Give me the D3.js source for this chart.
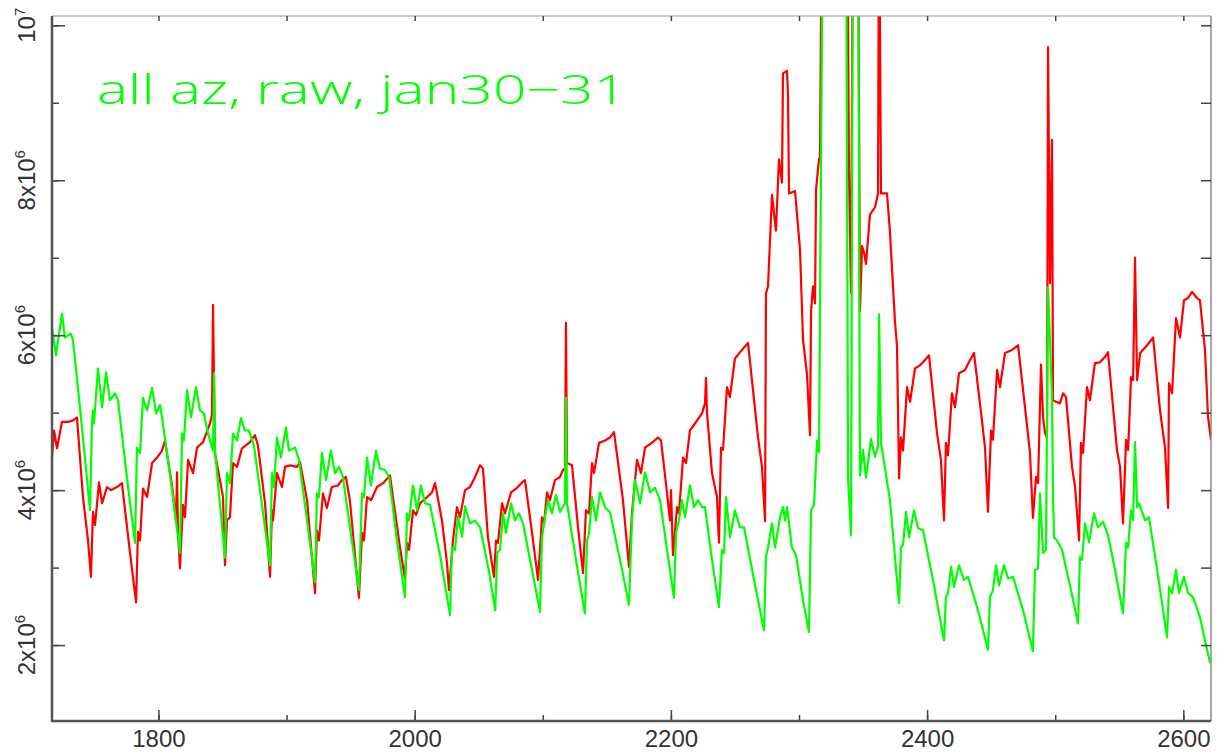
<!DOCTYPE html>
<html>
<head>
<meta charset="utf-8">
<script src="https://cdn.jsdelivr.net/npm/d3@7"></script>
<style>
  html, body { margin: 0; padding: 0; background: #fff; }
  svg { display: block; }
</style>
</head>
<body>
<script>
// values, y in units of 10^6
const red = [
  [1716.9,4.42],[1718.5,4.77],[1720.8,4.54],[1724.7,4.88],[1729.4,4.88],[1733.3,4.90],[1736.4,4.94],[1741.1,3.91],[1745.0,3.35],[1747.3,2.88],
  [1748.9,3.72],[1750.5,3.55],[1753.6,4.10],[1756.0,3.83],[1759.8,4.04],[1763.0,4.00],[1767.6,4.04],[1771.5,4.09],[1777.8,3.19],[1782.5,2.55],
  [1784.0,3.46],[1785.6,3.35],[1787.9,4.02],[1791.1,3.91],[1795.0,4.35],[1798.9,4.42],[1802.8,4.51],[1805.1,4.64],[1810.6,4.06],[1813.7,3.61],[1814.5,4.23],[1815.2,3.48],[1816.8,2.99],
  [1819.1,3.81],[1820.7,3.65],[1823.1,4.39],[1827.0,4.22],[1830.1,4.55],[1834.8,4.62],[1840.2,4.86],[1841.8,4.97],[1842.6,6.39],[1844.1,4.48],[1850.4,3.91],[1851.9,3.03],
  [1853.5,3.61],[1855.8,3.65],[1858.2,4.35],[1861.3,4.30],[1865.2,4.54],[1871.4,4.62],[1875.3,4.71],[1877.6,4.58],[1883.2,3.83],[1887.1,2.88],
  [1888.6,3.74],[1889.4,3.61],[1892.5,4.22],[1896.4,4.04],[1898.8,4.30],[1902.7,4.32],[1908.1,4.30],[1910.5,4.36],[1916.0,3.87],[1922.2,2.67],
  [1923.7,3.48],[1925.3,3.35],[1928.4,3.96],[1931.5,3.77],[1935.3,4.04],[1940.1,4.06],[1943.2,4.13],[1946.3,4.17],[1949.4,3.87],[1956.5,2.61],
  [1958.9,3.45],[1960.4,3.35],[1962.8,3.91],[1965.9,3.87],[1970.6,4.04],[1975.3,4.09],[1980.7,4.19],[1988.5,3.26],[1992.4,2.86],
  [1994.0,3.32],[1995.6,3.23],[1998.7,3.74],[2001.1,3.68],[2004.2,3.83],[2009.6,3.91],[2013.5,3.97],[2015.9,4.09],[2021.3,3.61],[2025.2,3.06],[2026.8,2.71],
  [2029.9,3.35],[2033.0,3.78],[2035.4,3.65],[2039.3,4.00],[2043.2,4.04],[2047.1,4.17],[2051.0,4.32],[2053.3,4.28],[2057.2,3.39],[2061.9,2.88],
  [2063.5,3.35],[2065.0,3.32],[2068.2,3.83],[2070.5,3.70],[2075.2,3.97],[2079.9,4.03],[2083.8,4.10],[2086.1,4.13],[2091.6,3.45],[2096.3,2.84],
  [2099.4,3.65],[2101.0,3.57],[2103.3,3.97],[2105.6,3.87],[2109.5,4.13],[2113.4,4.17],[2115.8,4.26],[2117.3,4.28],[2118.1,6.16],[2118.9,4.35],[2122.8,4.32],[2127.5,3.52],[2131.4,2.93],
  [2133.7,3.74],[2136.1,3.70],[2138.4,4.35],[2140.0,4.22],[2143.9,4.61],[2148.6,4.64],[2152.5,4.68],[2155.6,4.75],[2162.6,3.87],[2167.3,3.01],
  [2169.6,3.70],[2173.5,4.39],[2176.7,4.22],[2179.8,4.55],[2185.2,4.61],[2189.9,4.68],[2192.3,4.64],[2197.0,3.96],[2199.3,3.61],[2200.1,4.00],[2201.6,3.16],
  [2204.8,3.78],[2206.3,3.70],[2209.5,4.42],[2211.8,4.35],[2214.9,4.77],[2218.8,4.86],[2224.3,4.99],[2226.6,5.12],[2227.4,5.45],[2228.2,4.99],[2232.1,4.22],[2236.0,3.91],[2237.5,3.32],
  [2239.1,4.55],[2240.7,4.52],[2243.8,5.33],[2246.1,5.20],[2250.0,5.70],[2255.5,5.81],[2260.2,5.90],[2264.1,5.29],[2268.0,4.68],[2271.1,4.30],[2273.5,3.60],
  [2274.2,6.54],[2275.8,6.63],[2278.9,7.81],[2282.0,7.35],[2284.4,8.27],[2286.7,7.97],[2287.5,9.38],[2290.6,9.41],[2291.4,9.12],[2292.2,7.83],[2296.9,7.86],[2300.8,7.10],[2303.1,5.95],[2306.3,5.48],[2308.6,4.71],
  [2309.4,6.31],[2310.9,6.63],[2312.5,6.41],[2313.3,7.88],[2315.6,8.27],[2316.4,8.30],[2318.0,12],
  [2337.5,12],[2339.0,8.12],[2340.6,6.54],[2342.2,12],[2346.0,12],[2347.6,6.31],[2349.2,7.15],[2350.7,7.07],[2352.3,6.92],[2355.4,7.56],[2359.3,7.65],[2361.7,7.83],[2362.5,12],[2364.0,7.83],[2368.7,7.83],[2371.0,7.33],[2374.9,6.18],[2376.5,5.86],[2378.1,4.15],
  [2379.6,4.68],[2381.2,4.51],[2384.3,5.33],[2386.7,5.14],[2390.5,5.57],[2394.4,5.61],[2398.4,5.68],[2401.5,5.74],[2407.7,4.74],[2410.8,4.39],[2413.2,3.61],
  [2414.7,4.61],[2416.3,4.45],[2419.4,5.25],[2421.8,5.07],[2424.9,5.51],[2429.6,5.55],[2433.5,5.68],[2436.6,5.77],[2442.8,4.90],[2445.2,4.55],[2447.5,3.72],
  [2449.9,4.77],[2451.4,4.65],[2454.6,5.55],[2456.9,5.33],[2460.8,5.77],[2466.3,5.81],[2471.0,5.87],[2476.4,5.07],[2480.3,4.48],[2482.6,3.64],
  [2485.0,4.17],[2486.6,4.09],[2488.9,5.62],[2490.5,4.94],[2492.0,4.74],[2493.6,4.68],[2494.4,9.72],[2495.9,6.67],[2497.5,8.52],[2498.3,5.16],[2500.6,5.14],[2503.7,5.12],[2506.1,5.25],[2508.4,5.20],[2513.1,4.30],[2515.5,4.04],[2518.6,3.35],
  [2520.1,4.61],[2521.7,4.48],[2524.8,5.33],[2527.1,5.16],[2531.0,5.64],[2534.9,5.65],[2538.9,5.72],[2541.2,5.78],[2548.2,4.52],[2550.6,4.30],[2552.9,3.57],
  [2555.3,4.65],[2556.9,4.52],[2559.2,5.46],[2560.8,5.42],[2562.3,7.00],[2563.9,5.42],[2566.3,5.77],[2571.7,5.87],[2576.4,5.97],[2581.8,5.03],[2585.7,4.55],[2588.1,3.77],
  [2588.8,5.38],[2591.2,5.25],[2594.3,6.22],[2597.4,5.97],[2600.5,6.45],[2603.7,6.48],[2606.8,6.56],[2610.7,6.48],[2613.0,6.45],[2616.9,5.81],[2619.3,4.94],[2621.6,4.65]
];

const green = [
  [1716.9,6.10],[1720.0,5.74],[1724.7,6.28],[1727.0,5.97],[1731.7,6.02],[1733.3,5.93],[1738.7,5.07],[1746.6,3.74],
  [1748.1,4.86],[1748.9,5.03],[1749.7,4.86],[1752.8,5.57],[1756.0,5.07],[1759.1,5.52],[1762.2,5.16],[1766.1,5.25],[1768.4,5.16],[1775.4,4.16],[1781.7,3.32],
  [1783.2,4.55],[1785.6,4.48],[1787.9,5.19],[1791.1,5.03],[1795.0,5.32],[1798.1,4.99],[1801.2,5.10],[1803.5,4.86],[1810.6,4.00],[1816.8,3.19],
  [1818.4,4.73],[1819.9,4.64],[1822.3,5.29],[1825.4,4.94],[1829.3,5.33],[1832.4,5.03],[1835.5,4.99],[1838.7,4.73],[1842.6,4.51],[1843.4,5.51],[1844.1,4.51],[1851.9,3.13],
  [1853.5,4.22],[1855.8,4.09],[1858.2,4.73],[1861.3,4.64],[1864.4,4.93],[1867.5,4.77],[1870.6,4.77],[1874.5,4.58],[1880.8,3.81],[1887.1,3.03],
  [1888.6,4.22],[1890.2,4.04],[1892.5,4.68],[1895.6,4.42],[1899.5,4.81],[1901.9,4.51],[1906.6,4.55],[1909.7,4.39],[1916.0,3.61],[1922.2,2.81],
  [1923.7,3.96],[1925.3,3.91],[1927.6,4.48],[1930.8,4.13],[1934.6,4.51],[1937.8,4.22],[1940.9,4.30],[1944.0,4.17],[1950.3,3.42],[1956.5,2.71],
  [1958.9,3.96],[1960.4,3.91],[1962.8,4.42],[1965.9,4.06],[1969.8,4.51],[1972.9,4.28],[1976.8,4.26],[1980.0,4.17],[1986.2,3.35],[1992.4,2.62],
  [1994.0,3.70],[1995.6,3.61],[1998.7,4.06],[2001.8,3.74],[2004.9,4.06],[2008.1,3.83],[2012.0,3.81],[2019.8,3.16],[2027.6,2.39],
  [2029.1,3.26],[2031.5,3.23],[2033.8,3.66],[2037.0,3.40],[2039.3,3.79],[2043.2,3.57],[2047.1,3.61],[2051.0,3.52],[2057.8,2.97],[2062.9,2.45],
  [2064.4,3.19],[2066.6,3.23],[2069.0,3.70],[2071.3,3.45],[2075.2,3.83],[2078.3,3.61],[2081.4,3.70],[2084.6,3.57],[2091.6,2.97],[2097.8,2.43],
  [2099.4,3.39],[2101.7,3.65],[2104.1,3.87],[2107.2,3.70],[2110.3,3.94],[2113.4,3.72],[2117.3,3.83],[2118.1,5.19],[2118.9,3.83],[2125.9,3.10],[2132.9,2.41],
  [2134.5,3.35],[2136.1,3.44],[2138.4,3.91],[2141.5,3.61],[2144.7,3.97],[2148.6,3.78],[2152.5,3.71],[2160.3,3.10],[2167.3,2.52],
  [2169.6,3.61],[2172.0,4.13],[2175.9,3.83],[2179.8,4.23],[2183.7,3.97],[2187.6,4.03],[2191.5,3.87],[2197.0,3.23],[2202.4,2.61],
  [2204.0,3.45],[2206.3,3.61],[2208.7,3.87],[2211.0,3.65],[2214.9,4.06],[2218.0,3.78],[2221.2,3.87],[2224.3,3.78],[2226.6,3.78],[2232.1,3.10],[2237.5,2.49],
  [2239.9,3.23],[2241.5,3.19],[2243.0,3.91],[2246.1,3.39],[2250.0,3.74],[2253.9,3.52],[2257.1,3.52],[2264.9,2.84],[2272.7,2.19],
  [2274.2,3.14],[2275.8,3.26],[2278.9,3.57],[2281.3,3.26],[2285.2,3.65],[2287.5,3.78],[2289.1,3.61],[2290.6,3.78],[2294.5,3.26],[2297.7,3.16],[2303.1,2.58],[2307.8,2.17],
  [2309.4,3.74],[2311.7,3.81],[2314.1,4.64],[2315.6,4.49],[2318.8,12],
  [2336.7,12],[2338.3,4.15],[2340.6,3.42],[2342.2,12],[2346.0,12],[2347.6,4.19],[2350.0,4.52],[2352.3,4.16],[2356.2,4.66],[2359.3,4.43],[2361.7,4.57],[2362.5,6.27],[2364.0,4.61],[2371.0,3.87],[2378.1,2.54],
  [2379.6,3.26],[2381.2,3.29],[2383.5,3.72],[2385.9,3.39],[2389.8,3.74],[2392.9,3.51],[2396.8,3.48],[2405.4,2.77],[2413.2,2.06],
  [2414.7,2.62],[2416.3,2.67],[2418.7,3.01],[2421.0,2.75],[2424.9,3.03],[2428.8,2.84],[2431.9,2.88],[2439.7,2.45],[2447.5,1.94],
  [2449.1,2.62],[2451.4,2.71],[2453.8,3.03],[2456.1,2.77],[2460.0,3.03],[2463.2,2.86],[2467.1,2.88],[2474.9,2.45],[2482.6,1.92],
  [2484.2,2.97],[2486.6,2.99],[2488.1,3.96],[2490.5,3.19],[2492.8,3.23],[2494.4,6.62],[2495.9,5.94],[2497.5,5.20],[2498.3,3.91],[2499.1,3.39],[2501.4,3.35],[2505.3,3.23],[2511.5,2.77],[2517.8,2.28],
  [2519.3,3.14],[2520.9,3.10],[2523.2,3.57],[2526.4,3.33],[2530.3,3.70],[2533.4,3.52],[2537.3,3.59],[2541.2,3.42],[2546.7,2.97],[2552.9,2.41],
  [2555.3,3.32],[2556.9,3.26],[2559.2,3.74],[2560.8,3.61],[2562.3,4.62],[2563.9,3.78],[2565.5,3.83],[2570.1,3.61],[2573.2,3.65],[2580.2,2.90],[2587.3,2.10],
  [2588.8,2.75],[2591.2,2.67],[2594.3,2.97],[2596.6,2.67],[2600.5,2.88],[2603.7,2.67],[2607.6,2.62],[2613.0,2.36],[2616.9,2.06],[2620.9,1.77]
];

const xMajor = [1800, 2000, 2200, 2400, 2600];
const xMinor = [1800, 1900, 2000, 2100, 2200, 2300, 2400, 2500, 2600];
const yMajor = [2, 4, 6, 8, 10];
const yMinor = [2, 3, 4, 5, 6, 7, 8, 9, 10];
const yLabels = [["2x10", "6"], ["4x10", "6"], ["6x10", "6"], ["8x10", "6"], ["10", "7"]];
const title = "all az, raw, jan30\u221231";

const W = 1228, H = 756;
const pL = 52, pR = 1211, pT = 16, pB = 721;

const x = d3.scaleLinear().domain([1716.9, 2621.6]).range([pL, pR]);
const y = d3.scaleLinear().domain([1.02, 10.12]).range([pB, pT]);

const svg = d3.select("body").append("svg")
  .attr("width", W).attr("height", H)
  .style("font-family", "'Liberation Sans', Arial, sans-serif");

svg.append("defs").append("clipPath").attr("id", "plot")
  .append("rect").attr("x", pL).attr("y", pT)
  .attr("width", pR - pL).attr("height", pB - pT);

// series, green drawn over red
const line = d3.line().x(d => x(d[0])).y(d => y(d[1]));
const plot = svg.append("g").attr("clip-path", "url(#plot)");
plot.append("path").datum(red)
  .attr("d", line).attr("fill", "none")
  .attr("stroke", "#ff0000").attr("stroke-width", 2.2).attr("stroke-linejoin", "round");
plot.append("path").datum(green)
  .attr("d", line).attr("fill", "none")
  .attr("stroke", "#00ff00").attr("stroke-width", 2.2).attr("stroke-linejoin", "round");

// frame: thin top / right
svg.append("line").attr("x1", pL).attr("x2", pR).attr("y1", pT).attr("y2", pT)
  .attr("stroke", "#999").attr("stroke-width", 1);
svg.append("line").attr("x1", pR).attr("x2", pR).attr("y1", pT).attr("y2", pB)
  .attr("stroke", "#888").attr("stroke-width", 1.5);

function styleAxis(g) {
  g.select(".domain").remove();
  g.selectAll(".tick line").attr("stroke", "#444").attr("stroke-width", 1.5);
}

// ticks
svg.append("g").attr("transform", `translate(0,${pB})`)
  .call(d3.axisBottom(x).tickValues(xMinor).tickSize(-6).tickFormat("")).call(styleAxis);
svg.append("g").attr("transform", `translate(0,${pB})`)
  .call(d3.axisBottom(x).tickValues(xMajor).tickSize(-11).tickPadding(9).tickFormat(d3.format("d")))
  .call(styleAxis)
  .selectAll("text").attr("fill", "#333").style("font-size", "24px");
svg.append("g").attr("transform", `translate(0,${pT})`)
  .call(d3.axisTop(x).tickValues(xMinor).tickSize(-5).tickFormat("")).call(styleAxis);

svg.append("g").attr("transform", `translate(${pL},0)`)
  .call(d3.axisLeft(y).tickValues(yMinor).tickSize(-7).tickFormat("")).call(styleAxis);
svg.append("g").attr("transform", `translate(${pL},0)`)
  .call(d3.axisLeft(y).tickValues(yMajor).tickSize(-13).tickFormat("")).call(styleAxis);
svg.append("g").attr("transform", `translate(${pR},0)`)
  .call(d3.axisRight(y).tickValues(yMinor).tickSize(-10).tickFormat("")).call(styleAxis);

// y labels, rotated, with superscript exponent
const yl = svg.append("g").selectAll("text").data(yMajor).join("text")
  .attr("transform", d => `translate(35,${y(d)}) rotate(-90)`)
  .attr("text-anchor", "middle")
  .attr("fill", "#333")
  .style("font-size", "24px");
yl.append("tspan").text((d, i) => yLabels[i][0]);
yl.append("tspan").attr("dy", -10).style("font-size", "15px").text((d, i) => yLabels[i][1]);

// thick left / bottom axis lines
svg.append("line").attr("x1", pL).attr("x2", pL).attr("y1", pT).attr("y2", pB + 1)
  .attr("stroke", "#555").attr("stroke-width", 2.5);
svg.append("line").attr("x1", pL - 1).attr("x2", pR).attr("y1", pB).attr("y2", pB)
  .attr("stroke", "#555").attr("stroke-width", 2.5);

// title
svg.append("text")
  .attr("x", 97).attr("y", 104)
  .attr("fill", "#00ff00")
  .attr("textLength", 530).attr("lengthAdjust", "spacingAndGlyphs")
  .style("font-family", "'Open Sans', 'DejaVu Sans', sans-serif")
  .style("font-weight", 300)
  .style("font-size", "41px")
  .text(title);
</script>
</body>
</html>
